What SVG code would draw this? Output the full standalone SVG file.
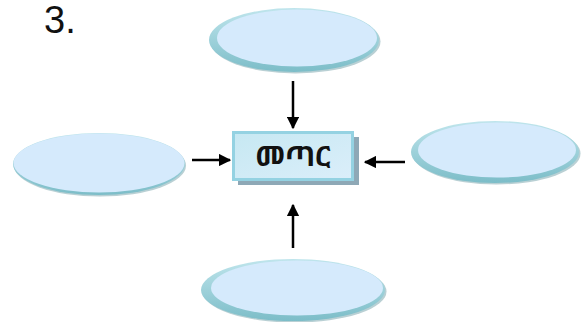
<svg xmlns="http://www.w3.org/2000/svg" width="582" height="322" viewBox="0 0 582 322">
<style>
.rim{fill:url(#rimg)}
.shadow{fill:#9bbcc2;opacity:0.7}
.inner{fill:#d5eafc}
.lbl{font-family:"Noto Sans Ethiopic","DejaVu Sans","Noto Sans",sans-serif;font-size:28px;font-weight:bold;fill:#111;text-anchor:middle}
.num{font-family:"Liberation Sans",Arial,sans-serif;font-size:38px;fill:#111}
.conn line{stroke:#000;stroke-width:2.5}
</style>
<defs>
<linearGradient id="rimg" x1="0" y1="0" x2="0" y2="1">
<stop offset="0" stop-color="#bfe5ec"/>
<stop offset="1" stop-color="#7cbdc8"/>
</linearGradient>
<linearGradient id="boxg" x1="0" y1="0" x2="1" y2="1">
<stop offset="0" stop-color="#c6e8f2"/>
<stop offset="1" stop-color="#dbeefa"/>
</linearGradient>
<marker id="ah" viewBox="0 0 10 10" refX="9" refY="5" markerWidth="5" markerHeight="5" markerUnits="strokeWidth" orient="auto">
<path d="M0,0 L10,5 L0,10 z" fill="#000"/>
</marker>
</defs>
<text class="num" x="44" y="33">3.</text>
<g id="top">
<ellipse class="shadow" cx="295.5" cy="41.5" rx="85" ry="32"/>
<ellipse class="rim" cx="294" cy="40" rx="85" ry="32"/>
<ellipse class="inner" cx="297" cy="38" rx="80" ry="28.5"/>
</g>
<g id="left">
<ellipse class="shadow" cx="100" cy="165.5" rx="86" ry="31"/>
<ellipse class="rim" cx="99" cy="164" rx="86" ry="31"/>
<ellipse class="inner" cx="99" cy="163" rx="85.5" ry="29.5"/>
</g>
<g id="right">
<ellipse class="shadow" cx="496.5" cy="153.5" rx="84" ry="31"/>
<ellipse class="rim" cx="495" cy="152" rx="84" ry="31"/>
<ellipse class="inner" cx="497" cy="150" rx="79" ry="27.5"/>
</g>
<g id="bottom">
<ellipse class="shadow" cx="294.5" cy="291.5" rx="92" ry="31"/>
<ellipse class="rim" cx="293" cy="290" rx="92" ry="31"/>
<ellipse class="inner" cx="297" cy="288" rx="86" ry="27.5"/>
</g>
<g id="center">
<rect x="238" y="137" width="121" height="48" fill="#8ea8b6"/>
<rect x="233.5" y="132.5" width="119" height="47" fill="url(#boxg)" stroke="#94d2e2" stroke-width="3"/>
<text class="lbl" x="293" y="166">መጣር</text>
</g>
<g class="conn">
<line x1="293" y1="81" x2="293" y2="128" marker-end="url(#ah)"/>
<line x1="192" y1="160" x2="230" y2="160" marker-end="url(#ah)"/>
<line x1="405" y1="162" x2="365" y2="162" marker-end="url(#ah)"/>
<line x1="293" y1="248" x2="293" y2="205" marker-end="url(#ah)"/>
</g>
</svg>
